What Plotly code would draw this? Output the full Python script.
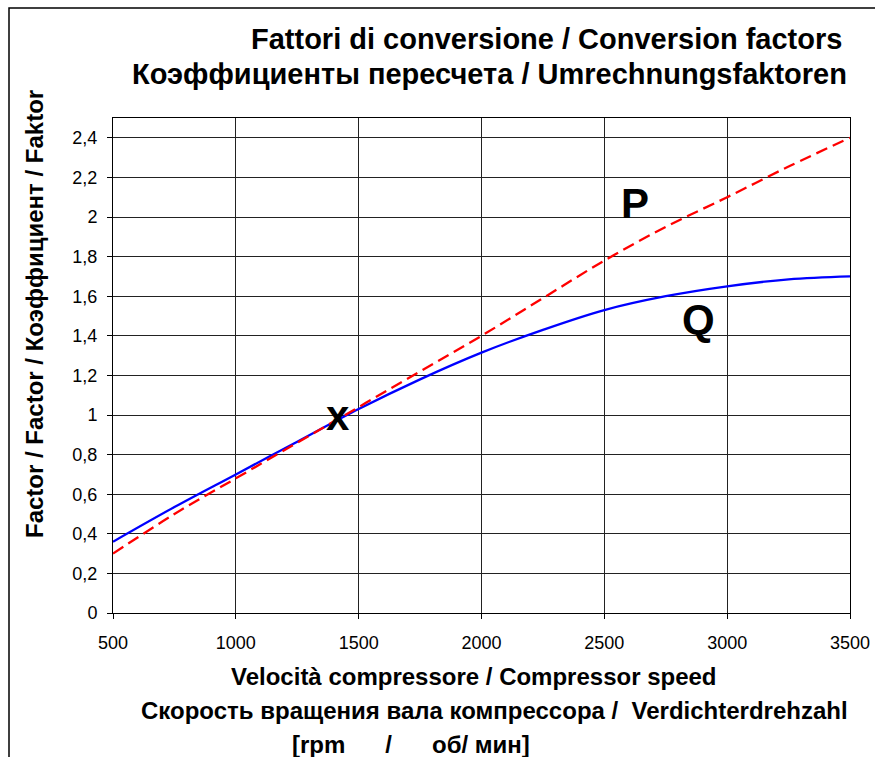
import plotly.graph_objects as go

# ---- data ----
rpm = [500, 750, 1000, 1250, 1500, 1750, 2000, 2250, 2500, 2750, 3000, 3250, 3500]
q_factor = [0.36, 0.535, 0.70, 0.865, 1.03, 1.18, 1.315, 1.43, 1.53, 1.60, 1.65, 1.685, 1.70]
p_factor = [0.30, 0.50, 0.68, 0.86, 1.04, 1.22, 1.40, 1.59, 1.78, 1.95, 2.10, 2.255, 2.40]

x_ticks = [500, 1000, 1500, 2000, 2500, 3000, 3500]
x_ticktext = ["500", "1000", "1500", "2000", "2500", "3000", "3500"]
y_ticks = [0, 0.2, 0.4, 0.6, 0.8, 1.0, 1.2, 1.4, 1.6, 1.8, 2.0, 2.2, 2.4]
y_ticktext = ["0", "0,2", "0,4", "0,6", "0,8", "1", "1,2", "1,4", "1,6", "1,8", "2", "2,2", "2,4"]

title_lines = ["Fattori di conversione / Conversion factors",
               "Коэффициенты пересчета / Umrechnungsfaktoren"]
y_title = "Factor / Factor / Коэффициент / Faktor"
x_title_lines = ["Velocità compressore / Compressor speed",
                 "Скорость вращения вала компрессора /\u00a0 Verdichterdrehzahl",
                 "[rpm" + "\u00a0" * 6 + "/" + "\u00a0" * 6 + "об/ мин]"]
curve_labels = [("P", 2625, 2.07), ("Q", 2885, 1.48), ("x", 1416, 1.0)]

FONT = "Liberation Sans, Arial, sans-serif"
W, H = 875, 757
# plot area in page pixels
PL, PR, PT, PB = 113, 850, 118, 613
L, R, T, B = PL, W - PR, PT, H - PB
PW, PH = PR - PL, PB - PT

def px_to_paper_x(px):
    return (px - PL) / PW

def py_to_paper_y(py):
    return (PB - py) / PH

fig = go.Figure()
fig.add_trace(go.Scatter(x=rpm, y=q_factor, mode="lines", line=dict(color="#0000FF", width=2.3, shape="spline"),
                         showlegend=False, name="Q", hoverinfo="skip"))
fig.add_trace(go.Scatter(x=rpm, y=p_factor, mode="lines",
                         line=dict(color="#FF0000", width=2.3, dash="12px,6px", shape="spline"),
                         showlegend=False, name="P", hoverinfo="skip"))

annotations = []
# titles
annotations.append(dict(text="<b>%s</b>" % title_lines[0], x=px_to_paper_x(844), y=py_to_paper_y(39),
                        xref="paper", yref="paper", xanchor="right", yanchor="middle", showarrow=False,
                        font=dict(family=FONT, size=29, color="black")))
annotations.append(dict(text="<b>%s</b>" % title_lines[1], x=px_to_paper_x(849), y=py_to_paper_y(74),
                        xref="paper", yref="paper", xanchor="right", yanchor="middle", showarrow=False,
                        font=dict(family=FONT, size=29, color="black")))
# y-axis title
annotations.append(dict(text="<b>%s</b>" % y_title, x=px_to_paper_x(34), y=py_to_paper_y(314),
                        xref="paper", yref="paper", xanchor="center", yanchor="middle", showarrow=False,
                        textangle=-90, font=dict(family=FONT, size=24, color="black")))
# x-axis titles
for txt, cx, cy in zip(x_title_lines, [474, 494, 411], [676, 710, 744]):
    annotations.append(dict(text="<b>%s</b>" % txt, x=px_to_paper_x(cx), y=py_to_paper_y(cy),
                            xref="paper", yref="paper", xanchor="center", yanchor="middle", showarrow=False,
                            font=dict(family=FONT, size=24, color="black")))
# curve labels
for lab, lx, ly in curve_labels:
    annotations.append(dict(text="<b>%s</b>" % lab, x=lx, y=ly, xref="x", yref="y", showarrow=False,
                            xanchor="center", yanchor="middle",
                            font=dict(family=FONT, size=42, color="black")))

shapes = [dict(type="rect", xref="paper", yref="paper",
               x0=px_to_paper_x(9), x1=px_to_paper_x(940), y0=py_to_paper_y(800), y1=py_to_paper_y(8),
               line=dict(color="black", width=1.5), fillcolor="rgba(0,0,0,0)", layer="below")]

fig.update_layout(
    width=W, height=H, margin=dict(l=L, r=R, t=T, b=B, autoexpand=False),
    paper_bgcolor="white", plot_bgcolor="white",
    annotations=annotations, shapes=shapes,
    font=dict(family=FONT, color="black"),
)
fig.update_xaxes(range=[500, 3500], tickvals=x_ticks, ticktext=x_ticktext,
                 showgrid=True, gridcolor="#222222", gridwidth=1,
                 showline=True, linecolor="black", linewidth=1, mirror=True,
                 ticks="outside", ticklen=5, tickcolor="black", ticklabelstandoff=8,
                 tickfont=dict(family=FONT, size=18, color="black"),
                 zeroline=False)
fig.update_yaxes(range=[0, 2.5], tickvals=y_ticks, ticktext=y_ticktext,
                 showgrid=True, gridcolor="#222222", gridwidth=1,
                 showline=True, linecolor="black", linewidth=1, mirror=True,
                 ticks="outside", ticklen=5, tickcolor="black", ticklabelstandoff=6,
                 tickfont=dict(family=FONT, size=18, color="black"),
                 zeroline=False)

fig.write_html("out.html", config={"displayModeBar": False},
               post_script="document.body.style.margin='0px';document.body.style.overflow='hidden';")
